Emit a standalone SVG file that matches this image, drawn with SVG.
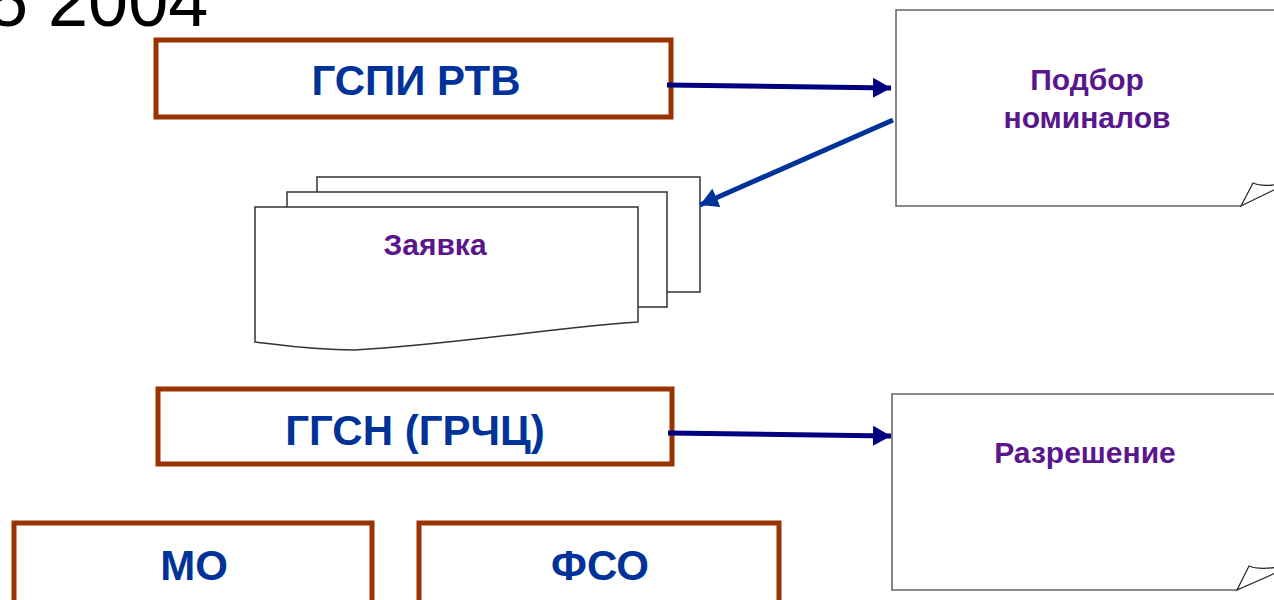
<svg xmlns="http://www.w3.org/2000/svg" width="1274" height="600" viewBox="0 0 1274 600">
<style>
.box{fill:#fff;stroke:#993300;stroke-width:5}
.lbl{font-family:"Liberation Sans",Arial,sans-serif;font-weight:bold;font-size:42px;fill:#003399;text-anchor:middle}
.doc{fill:#fff;stroke:#666;stroke-width:1.6}
.curl{fill:#fff;stroke:#222;stroke-width:1.2}
.sheet{fill:#fff;stroke:#333;stroke-width:1.5}
.ptxt{font-family:"Liberation Sans",Arial,sans-serif;font-weight:bold;font-size:30px;fill:#5A168C;text-anchor:middle}
.c1{stroke:#000080;stroke-width:5;fill:none}
.c2{stroke:#003399;stroke-width:5;fill:none}
</style>
<defs>
<marker id="ah1" markerUnits="userSpaceOnUse" markerWidth="20" markerHeight="22" viewBox="0 0 20 22" refX="18" refY="11" orient="auto"><path d="M0,1 L18,11 L0,21 Z" fill="#000080"/></marker>
<marker id="ah2" markerUnits="userSpaceOnUse" markerWidth="20" markerHeight="22" viewBox="0 0 20 22" refX="18" refY="11" orient="auto"><path d="M0,1 L18,11 L0,21 Z" fill="#003399"/></marker>
</defs>
<rect width="1274" height="600" fill="#fff"/>
<text x="-12" y="26" font-family="Liberation Sans, Arial, sans-serif" font-size="72" fill="#000">5 2004</text>

<g id="gspi">
<rect class="box" x="156" y="40" width="515" height="77"/>
<text class="lbl" x="416" y="95">ГСПИ РТВ</text>
</g>
<g id="ggsn">
<rect class="box" x="158" y="389" width="514" height="75"/>
<text class="lbl" x="415" y="445">ГГСН (ГРЧЦ)</text>
</g>
<g id="mo">
<rect class="box" x="14" y="523" width="358" height="85"/>
<text class="lbl" x="194" y="580">МО</text>
</g>
<g id="fso">
<rect class="box" x="419" y="523" width="360" height="85"/>
<text class="lbl" x="600" y="580">ФСО</text>
</g>

<g id="podbor">
<path class="doc" d="M1280,10 H896 V206 H1241"/>
<path class="curl" d="M1241,206 L1253,183 Q1262,187 1280,184 L1280,187 Z"/>
<text class="ptxt" x="1087" y="90">Подбор</text>
<text class="ptxt" x="1087" y="128">номиналов</text>
</g>

<g id="razr">
<path class="doc" d="M1280,394 H892 V590 H1237"/>
<path class="curl" d="M1237,590 L1249,566 Q1258,570 1280,567 L1280,571 Z"/>
<text class="ptxt" x="1085" y="463">Разрешение</text>
</g>

<g id="zayavka">
<rect class="sheet" x="317" y="177" width="383" height="115"/>
<rect class="sheet" x="287" y="192" width="380" height="115"/>
<path class="sheet" d="M255,207 H638 V322 C550,328 450,345 355,350 C310,350 280,345 255,342 Z"/>
<text class="ptxt" x="435" y="255">Заявка</text>
</g>

<g id="connectors">
<path class="c1" d="M667,85 L891,88" marker-end="url(#ah1)"/>
<path class="c2" d="M893,120 L700,205" marker-end="url(#ah2)"/>
<path class="c1" d="M668,433 L891,436" marker-end="url(#ah1)"/>
</g>
</svg>
